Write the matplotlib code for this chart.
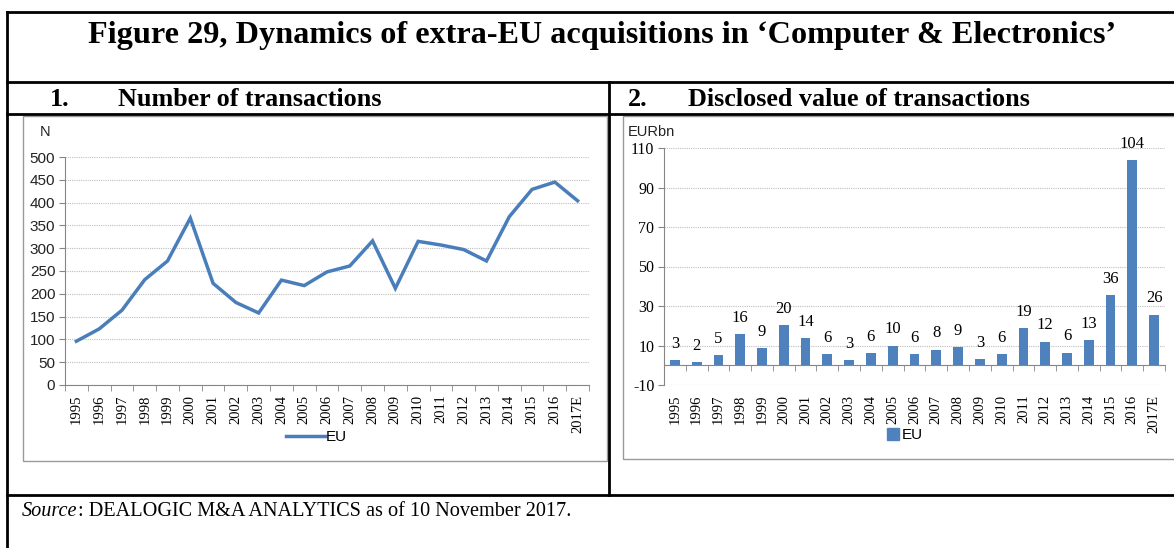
import numpy as np
import matplotlib
matplotlib.use("Agg")
import matplotlib.pyplot as plt
from matplotlib.lines import Line2D
from matplotlib.patches import Rectangle

plt.rcParams["axes.unicode_minus"] = False

# data
years = ["1995", "1996", "1997", "1998", "1999", "2000", "2001", "2002", "2003",
         "2004", "2005", "2006", "2007", "2008", "2009", "2010", "2011", "2012",
         "2013", "2014", "2015", "2016", "2017E"]
n_deals = [96, 123, 164, 231, 272, 366, 223, 181, 158, 230, 218, 248, 261, 316,
           212, 315, 307, 297, 272, 369, 429, 445, 404]
value_bn = [2.6, 1.7, 5.1, 15.6, 8.8, 20.3, 13.6, 5.5, 2.6, 6.0, 9.9, 5.5, 7.9,
            9.2, 3.0, 5.7, 18.7, 11.9, 6.4, 12.6, 35.6, 104.0, 25.6]
value_labels = [3, 2, 5, 16, 9, 20, 14, 6, 3, 6, 10, 6, 8, 9, 3, 6, 19, 12, 6,
                13, 36, 104, 26]
left_yticks = list(range(0, 501, 50))
right_yticks = list(range(-10, 111, 20))

W, H = 1174, 548
BLUE = "#4A7EBB"
GRID = "#BFBFBF"
SPINE = "#868686"
SERIF = "Liberation Serif"
SANS = "Liberation Sans"

fig = plt.figure(figsize=(W / 100, H / 100), dpi=100)


def px_axes(x0, y0, x1, y1, **kw):
    # axes placed by pixel box (top-left origin)
    return fig.add_axes([x0 / W, 1 - y1 / H, (x1 - x0) / W, (y1 - y0) / H], **kw)


def hline(x0, x1, y, lw=2.0, color="black"):
    fig.add_artist(Line2D([x0 / W, x1 / W], [1 - y / H, 1 - y / H],
                          lw=lw, color=color, transform=fig.transFigure))


def vline(x, y0, y1, lw=2.0, color="black"):
    fig.add_artist(Line2D([x / W, x / W], [1 - y0 / H, 1 - y1 / H],
                          lw=lw, color=color, transform=fig.transFigure))


# table frame
hline(7, W, 12)
hline(7, W, 82)
hline(7, W, 114)
hline(7, W, 495)
vline(7, 12, H)
vline(609, 82, 495)

# chart boxes
for (bx0, by0, bx1, by1) in [(23, 116, 607, 461), (623, 116, W + 2, 459)]:
    fig.add_artist(Rectangle((bx0 / W, 1 - by1 / H), (bx1 - bx0) / W, (by1 - by0) / H,
                             fill=False, lw=1.0, ec="#9A9A9A", transform=fig.transFigure))

fig.text(602 / W, 1 - 35 / H,
         "Figure 29, Dynamics of extra-EU acquisitions in \u2018Computer & Electronics\u2019",
         ha="center", va="center", fontsize=23.2, fontweight="bold", family=SERIF)
sub = dict(ha="left", va="center", fontsize=18.8, fontweight="bold", family=SERIF)
fig.text(50 / W, 1 - 99 / H, "1.", **sub)
fig.text(118 / W, 1 - 99 / H, "Number of transactions", **sub)
fig.text(628 / W, 1 - 99 / H, "2.", **sub)
fig.text(688 / W, 1 - 99 / H, "Disclosed value of transactions", **sub)

src = fig.text(22 / W, 1 - 511 / H, "Source", ha="left", va="center", fontsize=14.6,
               style="italic", family=SERIF)
fig.canvas.draw()
src_end = src.get_window_extent().x1
fig.text(src_end / W, 1 - 511 / H, ": DEALOGIC M&A ANALYTICS as of 10 November 2017.",
         ha="left", va="center", fontsize=14.6, family=SERIF)

x = np.arange(len(years))

# left: number of transactions
ax1 = px_axes(65, 157, 589, 385)
ax1.plot(x, n_deals, color=BLUE, lw=2.5, solid_joinstyle="miter")
ax1.set_xlim(-0.5, len(years) - 0.5)
ax1.set_ylim(0, 500)
ax1.set_yticks(left_yticks)
ax1.yaxis.grid(True, color=GRID, ls=(0, (1, 1)), lw=0.8)
ax1.set_axisbelow(True)
ax1.set_xticks(x)
ax1.set_xticklabels(years, rotation=90, family=SERIF, fontsize=10.5)
ax1.set_xticks(np.arange(-0.5, len(years)), minor=True)
ax1.tick_params(axis="x", which="major", length=0, pad=7)
ax1.tick_params(axis="x", which="minor", length=4, color=SPINE)
ax1.tick_params(axis="y", length=4, color=SPINE, labelsize=11, pad=3)
for lab in ax1.get_yticklabels():
    lab.set_family(SANS)
    lab.set_color("#222222")
for s in ["top", "right"]:
    ax1.spines[s].set_visible(False)
for s in ["left", "bottom"]:
    ax1.spines[s].set_color(SPINE)
fig.text(45 / W, 1 - 132 / H, "N", ha="center", va="center", fontsize=10.5,
         family=SANS, color="#222222")
ax1.legend([Line2D([], [], color=BLUE, lw=2.5)], ["EU"], loc="center",
           bbox_to_anchor=(316 / W, 1 - 437 / H), bbox_transform=fig.transFigure,
           frameon=False, handlelength=2.6, handletextpad=0.0,
           prop={"family": SANS, "size": 11})

# right: disclosed value
ax2 = px_axes(664, 148, 1165, 385)
ax2.bar(x, value_bn, width=0.45, color="#4F81BD", zorder=3)
ax2.set_xlim(-0.5, len(years) - 0.5)
ax2.set_ylim(-10, 110)
ax2.set_yticks(right_yticks)
ax2.yaxis.grid(True, color=GRID, ls=(0, (1, 1)), lw=0.8)
ax2.set_axisbelow(True)
ax2.set_xticks(x)
ax2.set_xticklabels(years, rotation=90, family=SERIF, fontsize=10.5)
ax2.tick_params(axis="x", which="major", length=0, pad=7)
ax2.tick_params(axis="y", length=4, color=SPINE, labelsize=11.5, pad=3)
for lab in ax2.get_yticklabels():
    lab.set_family(SERIF)
for s in ["top", "right", "bottom"]:
    ax2.spines[s].set_visible(False)
ax2.spines["left"].set_color(SPINE)
# category axis sits at zero
zero_ax = ax2.secondary_xaxis(10 / 120)
zero_ax.spines["bottom"].set_color(SPINE)
zero_ax.set_xticks([])
zero_ax.set_xticks(np.arange(-0.5, len(years)), minor=True)
zero_ax.tick_params(which="minor", length=4, color=SPINE, labelbottom=False)
for xi, v, lab in zip(x, value_bn, value_labels):
    ax2.annotate(str(lab), (xi, v), xytext=(0, 6), textcoords="offset points",
                 ha="center", va="bottom", family=SERIF, fontsize=12)
fig.text(628 / W, 1 - 132 / H, "EURbn", ha="left", va="center", fontsize=10.5,
         family=SANS, color="#222222")
ax2.legend([Rectangle((0, 0), 1, 1, color="#4F81BD")], ["EU"], loc="center",
           bbox_to_anchor=(905 / W, 1 - 435 / H), bbox_transform=fig.transFigure,
           frameon=False, handlelength=0.8, handleheight=0.8, handletextpad=0.2,
           prop={"family": SANS, "size": 11})

fig.savefig("out.png", dpi=100)
